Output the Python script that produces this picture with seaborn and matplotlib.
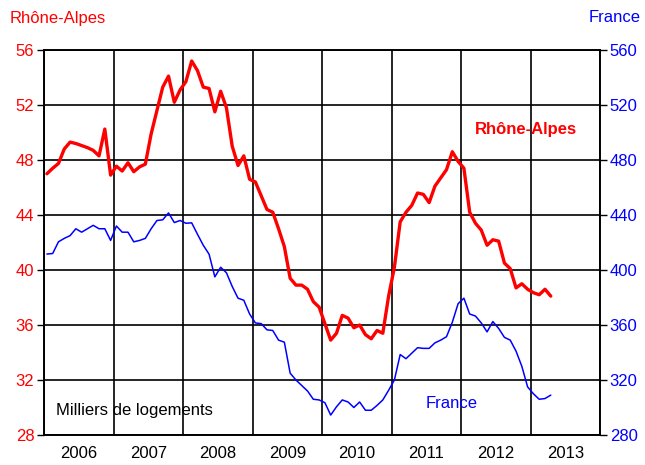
import numpy as np
import pandas as pd
import matplotlib
matplotlib.use("Agg")
import matplotlib.pyplot as plt
import seaborn as sns

# monthly values, Jan 2006 - Apr 2013 (milliers de logements)
rhone_alpes = [
    47.0, 47.4, 47.75, 48.8, 49.3, 49.2, 49.05, 48.9, 48.7, 48.3, 50.25, 46.9,
    47.55, 47.2, 47.8, 47.15, 47.5, 47.7, 49.9, 51.6, 53.3, 54.1, 52.2, 53.1,
    53.7, 55.2, 54.5, 53.3, 53.2, 51.5, 53.0, 51.8, 49.0, 47.6, 48.3, 46.6,
    46.4, 45.4, 44.4, 44.2, 43.0, 41.7, 39.4, 38.9, 38.9, 38.6, 37.7, 37.3,
    36.1, 34.9, 35.4, 36.7, 36.5, 35.8, 36.0, 35.3, 35.0, 35.6, 35.4, 38.1,
    40.2, 43.5, 44.2, 44.7, 45.6, 45.5, 44.9, 46.1, 46.7, 47.3, 48.6, 47.9,
    47.4, 44.2, 43.4, 42.9, 41.8, 42.2, 42.1, 40.5, 40.1, 38.7, 39.0, 38.6,
    38.35, 38.2, 38.6, 38.1,
]
france = [
    411.6, 412, 420.5, 423, 425, 430, 427.5, 430, 432.5, 430, 430, 421.5,
    432, 427.5, 427.5, 420.5, 421.5, 423, 430, 436, 436.5, 441.5, 434.5, 436,
    434, 434.3, 426, 418, 411.5, 395, 402, 398, 388, 379.5, 378, 368,
    361.5, 361, 356.5, 356, 349, 347.5, 325, 320, 316, 312, 306, 305.5,
    303.5, 294.5, 300.5, 305.5, 304, 300, 304, 298, 298, 301.5, 305.5, 312.5,
    320, 338.5, 335.5, 339.5, 343.5, 343, 343, 347, 349, 351.5, 362, 375.5,
    379.5, 368, 366.5, 361.5, 355, 362.5, 357.5, 351, 349, 341, 330, 315,
    310, 306, 306.5, 309,
]
years = list(range(2006, 2014))
left_ticks = list(range(28, 57, 4))
right_ticks = list(range(280, 561, 40))

RED = "#ff0000"
BLUE = "#0000ff"

df = pd.DataFrame({"rhone": rhone_alpes, "france": france})
df["t"] = 2006 + (np.arange(len(df)) + 0.5) / 12

sns.set_style("white")
plt.rcParams["font.family"] = ["Liberation Sans", "DejaVu Sans"]

fig = plt.figure(figsize=(6.45, 4.65), dpi=100)
ax = fig.add_axes([44 / 645, 1 - 435 / 465, 556 / 645, 385 / 465])
ax2 = ax.twinx()

sns.lineplot(data=df, x="t", y="rhone", ax=ax, color=RED, linewidth=2.4, zorder=5)
sns.lineplot(data=df, x="t", y="france", ax=ax2, color=BLUE, linewidth=1.1)

ax.set_xlim(2006, 2014)
ax.set_ylim(28, 56)
ax2.set_ylim(280, 560)

ax.set_xticks(range(2006, 2015))
ax.set_xticklabels([])
ax.set_xticks([y + 0.5 for y in years], minor=True)
ax.set_xticklabels([str(y) for y in years], minor=True, fontsize=12, color="black")
ax.tick_params(axis="x", which="both", length=0, pad=8)

ax.set_yticks(left_ticks)
ax.set_yticklabels([str(v) for v in left_ticks], color=RED, fontsize=12)
ax.tick_params(axis="y", length=5, width=1, color="black", pad=2, left=True)
ax2.set_yticks(right_ticks)
ax2.set_yticklabels([str(v) for v in right_ticks], color=BLUE, fontsize=12)
ax2.tick_params(axis="y", length=5, width=1, color="black", pad=2, right=True)

ax.grid(True, color="black", linewidth=1.2)
ax.set_axisbelow(True)
ax.set_xlabel("")
ax.set_ylabel("")
ax2.set_ylabel("")
for a in (ax, ax2):
    for s in a.spines.values():
        s.set_color("black")
        s.set_linewidth(1.2)

ax.text(2012.94, 50.2, "Rhône-Alpes", color=RED, fontsize=12, fontweight="bold",
        ha="center", va="center", zorder=6)
ax.text(2011.87, 30.3, "France", color=BLUE, fontsize=12, ha="center", va="center")
ax.text(2006.17, 29.8, "Milliers de logements", color="black", fontsize=12,
        ha="left", va="center")

fig.text(10 / 645, 1 - 18 / 465, "Rhône-Alpes", color=RED, fontsize=12, ha="left", va="center")
fig.text(641 / 645, 1 - 18 / 465, "France", color=BLUE, fontsize=12, ha="right", va="center")

fig.savefig("out.png", dpi=100)
